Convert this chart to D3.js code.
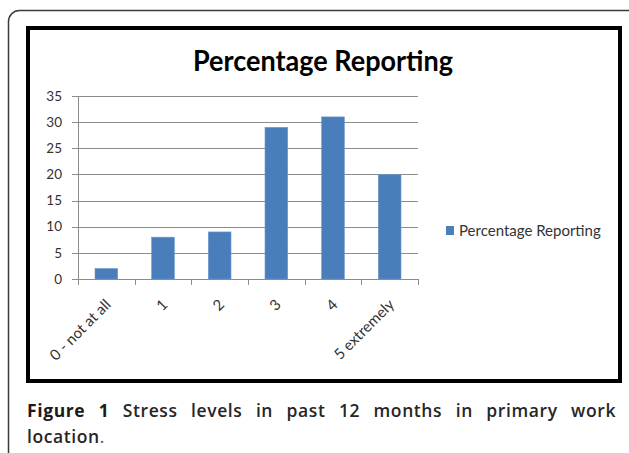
<!DOCTYPE html>
<html>
<head>
<meta charset="utf-8">
<script src="https://cdn.jsdelivr.net/npm/d3@7"></script>
<style>
  html, body { margin: 0; padding: 0; background: #fff; }
  #wrap { position: relative; width: 629px; height: 453px; overflow: hidden; }
  svg { position: absolute; left: 0; top: 0; }
  .cap {
    position: absolute; left: 27px; width: 589px;
    font-family: "Open Sans", sans-serif; font-size: 17.5px; line-height: 20px;
    color: #262626; font-weight: 600; white-space: nowrap; letter-spacing: 0.6px;
  }
  #cap1 { top: 400px; text-align: justify; text-align-last: justify; white-space: normal; }
  #cap2 { top: 426px; }
  .cap b { font-weight: 700; color: #1a1a1a; }
  .cap .dot { font-weight: 400; color: #555; }
</style>
</head>
<body>
<div id="wrap">
<svg id="chart" width="629" height="453"></svg>
<div class="cap" id="cap1"><b>Figure 1</b> Stress levels in past 12 months in primary work</div>
<div class="cap" id="cap2">location<span class="dot">.</span></div>
</div>
<script>
const categories = ["0 - not at all", "1", "2", "3", "4", "5 extremely"];
const values = [2, 8, 9, 29, 31, 20];
const yTicks = [0, 5, 10, 15, 20, 25, 30, 35];
const seriesName = "Percentage Reporting";
const chartTitle = "Percentage Reporting";

const svg = d3.select("#chart");

// outer rounded border
svg.append("rect")
  .attr("x", 8.5).attr("y", 10.5).attr("width", 630).attr("height", 460)
  .attr("rx", 11).attr("ry", 11)
  .attr("fill", "none").attr("stroke", "#3a3a3a").attr("stroke-width", 1.5);

// inner chart frame
svg.append("rect")
  .attr("x", 28).attr("y", 28).attr("width", 592).attr("height", 353)
  .attr("fill", "#fff").attr("stroke", "#000").attr("stroke-width", 4);

const pLeft = 78, pRight = 418, pTop = 96, pBottom = 279;

const x = d3.scaleBand().domain(categories).range([pLeft, pRight])
  .paddingInner(0.6).paddingOuter(0.3);
const y = d3.scaleLinear().domain([0, 35]).range([pBottom, pTop]);

// title
svg.append("text")
  .attr("x", 323).attr("y", 71)
  .attr("text-anchor", "middle")
  .attr("font-family", "Lato, sans-serif").attr("font-weight", 700)
  .attr("font-size", 29).attr("fill", "#000")
  .attr("textLength", 260).attr("lengthAdjust", "spacingAndGlyphs")
  .text(chartTitle);

// gridlines
svg.append("g").selectAll("line").data(yTicks).join("line")
  .attr("x1", pLeft - 6).attr("x2", pRight)
  .attr("y1", d => Math.round(y(d)) + 0.5).attr("y2", d => Math.round(y(d)) + 0.5)
  .attr("stroke", "#8c8c8c").attr("stroke-width", 1);

// y axis line
svg.append("line")
  .attr("x1", pLeft + 0.5).attr("x2", pLeft + 0.5)
  .attr("y1", y(35)).attr("y2", y(0))
  .attr("stroke", "#8c8c8c");

// y labels
svg.append("g").selectAll("text").data(yTicks).join("text")
  .attr("x", 62).attr("y", d => y(d))
  .attr("dy", "0.35em")
  .attr("text-anchor", "end")
  .attr("font-family", "Lato, sans-serif").attr("font-size", 13.5)
  .attr("fill", "#333")
  .text(d => d);

// x tick marks at band boundaries
const step = x.step();
const boundaries = categories.map(c => x(c) - (step - x.bandwidth()) / 2);
boundaries.push(pRight);
svg.append("g").selectAll("line").data(boundaries).join("line")
  .attr("x1", d => Math.round(d) + 0.5).attr("x2", d => Math.round(d) + 0.5)
  .attr("y1", pBottom).attr("y2", pBottom + 6)
  .attr("stroke", "#8c8c8c");

// bars
svg.append("g").selectAll("rect").data(values).join("rect")
  .attr("x", (d, i) => x(categories[i]))
  .attr("y", d => y(d))
  .attr("width", x.bandwidth())
  .attr("height", d => y(0) - y(d))
  .attr("fill", "#4a7ebb")
  .attr("stroke", "#6b97cc").attr("stroke-width", 0.6);

// x labels rotated
svg.append("g").selectAll("text").data(categories).join("text")
  .attr("transform", c => `translate(${x(c) + x.bandwidth() / 2 - 2},${298}) rotate(-45)`)
  .attr("dy", "0.71em")
  .attr("text-anchor", "end")
  .attr("font-family", "Lato, sans-serif").attr("font-size", 15)
  .attr("fill", "#333")
  .text(c => c);

// legend
const lg = svg.append("g");
lg.append("rect").attr("x", 446).attr("y", 226).attr("width", 8).attr("height", 9)
  .attr("fill", "#4a7ebb");
lg.append("text").attr("x", 459).attr("y", 230.5).attr("dy", "0.35em")
  .attr("font-family", "Lato, sans-serif").attr("font-size", 15)
  .attr("fill", "#333").text(seriesName);
</script>
</body>
</html>
